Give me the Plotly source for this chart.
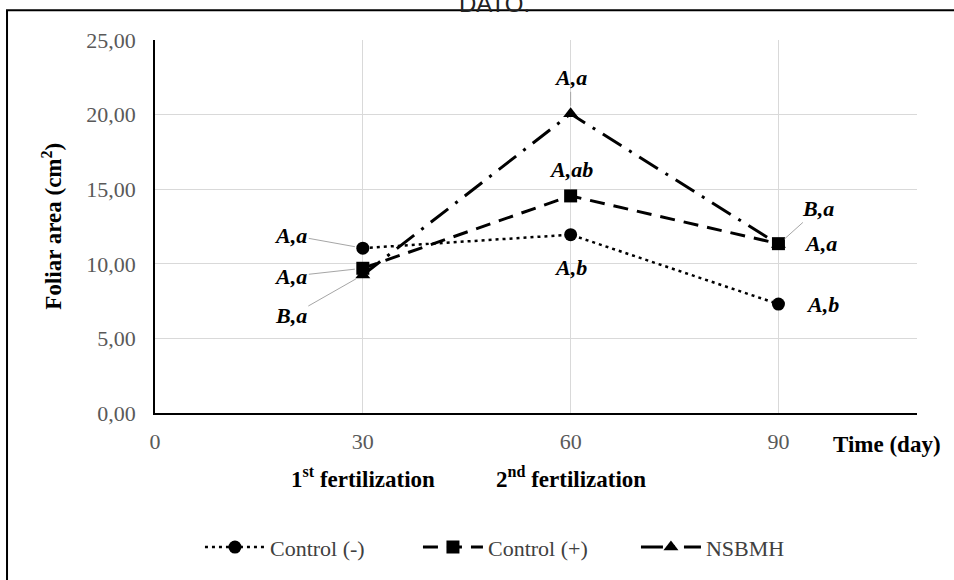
import plotly.graph_objects as go

# ---- data ----
days = [30, 60, 90]
control_neg = [11.05, 11.95, 7.30]
control_pos = [9.70, 14.55, 11.35]
nsbmh = [9.25, 20.05, 11.30]

labels_neg = ["A,a", "A,b", "A,b"]
labels_pos = ["A,a", "A,ab", "A,a"]
labels_nsb = ["B,a", "A,a", "B,a"]

series_names = ["Control (-)", "Control (+)", "NSBMH"]

y_ticks = [0, 5, 10, 15, 20, 25]
x_ticks = [0, 30, 60, 90]

SERIF = "Liberation Serif, Times New Roman, serif"

def serif_name(s):
    return "<span style='font-family:Liberation Serif, serif'>%s</span>" % s

fig = go.Figure()
fig.add_trace(go.Scatter(
    x=days, y=control_neg, name=serif_name(series_names[0]), mode="lines+markers",
    line=dict(color="black", width=2.5, dash="3px,4px"),
    marker=dict(symbol="circle", size=13, color="black"),
))
fig.add_trace(go.Scatter(
    x=days, y=control_pos, name=serif_name(series_names[1]), mode="lines+markers",
    line=dict(color="black", width=3, dash="15px,9px"),
    marker=dict(symbol="square", size=13, color="black"),
))
fig.add_trace(go.Scatter(
    x=days, y=nsbmh, name=serif_name(series_names[2]), mode="lines+markers",
    line=dict(color="black", width=3, dash="22px,9px,3px,9px"),
    marker=dict(symbol="triangle-up", size=13, color="black"),
))

lab_font = dict(family=SERIF, size=22, color="black")
lead = dict(showarrow=True, arrowhead=0, arrowwidth=1, arrowcolor="#a6a6a6", standoff=8)

def lab(x, y, text, **kw):
    t = "<b><i>%s</i></b>" % text
    fig.add_annotation(x=x, y=y, xref="x", yref="y", text=t, font=lab_font,
                       xanchor="center", yanchor="middle", **kw)

# Control (-)
lab(days[0], control_neg[0], labels_neg[0], ax=-72, ay=-13, **lead)
lab(days[1], control_neg[1], labels_neg[1], showarrow=False, yshift=-33)
lab(days[2], control_neg[2], labels_neg[2], showarrow=False, xshift=44)
# Control (+)
lab(days[0], control_pos[0], labels_pos[0], ax=-72, ay=8, **lead)
lab(days[1], control_pos[1], labels_pos[1], showarrow=False, yshift=26)
lab(days[2], control_pos[2], labels_pos[2], showarrow=False, xshift=42)
# NSBMH
lab(days[0], nsbmh[0], labels_nsb[0], ax=-72, ay=41, **lead)
lab(days[1], nsbmh[1], labels_nsb[1], ax=0, ay=-36, **lead)
lab(days[2], nsbmh[2], labels_nsb[2], ax=40, ay=-36, **lead)

title_font = dict(family=SERIF, size=23, color="black")
fig.add_annotation(x=-0.135, y=0.5, xref="paper", yref="paper", showarrow=False,
                   xanchor="center", yanchor="middle",
                   text="<b>Foliar area (cm<sup>2</sup>)</b>", textangle=-90, font=title_font)
fig.add_annotation(x=0.961, y=-0.085, xref="paper", yref="paper", showarrow=False,
                   xanchor="center", yanchor="middle",
                   text="<b>Time (day)</b>", font=title_font)
fig.add_annotation(x=30, y=-0.173, xref="x", yref="paper", showarrow=False,
                   xanchor="center", yanchor="middle",
                   text="<b>1<sup>st</sup> fertilization</b>", font=title_font)
fig.add_annotation(x=60, y=-0.173, xref="x", yref="paper", showarrow=False,
                   xanchor="center", yanchor="middle",
                   text="<b>2<sup>nd</sup> fertilization</b>", font=title_font)
fig.add_annotation(x=0.446, y=1.099, xref="paper", yref="paper", showarrow=False,
                   xanchor="center", yanchor="middle",
                   text="DATO.", font=dict(family="Liberation Sans, Arial, sans-serif", size=24, color="#222"))

# outer border
fig.add_shape(type="rect", xref="paper", yref="paper",
              x0=-0.1942, x1=1.1, y0=-0.5, y1=1.08,
              line=dict(color="black", width=2), fillcolor="rgba(0,0,0,0)")

fig.update_layout(
    template="none",
    width=954, height=580,
    margin=dict(l=155, r=37, t=40, b=165),
    plot_bgcolor="white", paper_bgcolor="white",
    separators=",.",
    showlegend=True,
    legend=dict(orientation="h", x=0.059, xanchor="left", y=-0.36, yanchor="middle",
                font=dict(family=SERIF, size=22, color="#404040"),
                bgcolor="rgba(0,0,0,0)", borderwidth=0,
                itemwidth=60, entrywidth=143, entrywidthmode="pixels"),
    font=dict(family=SERIF, color="#404040"),
)
fig.update_xaxes(range=[0, 110], tickvals=x_ticks, showgrid=True, gridcolor="#d9d9d9",
                 gridwidth=1, showline=True, linecolor="black", linewidth=1.5,
                 zeroline=False, ticks="", ticklabelstandoff=8, automargin=False,
                 tickfont=dict(family=SERIF, size=22, color="#595959"))
fig.update_yaxes(range=[0, 25], tickvals=y_ticks, tickformat=".2f", showgrid=True,
                 gridcolor="#d9d9d9", gridwidth=1, showline=True, linecolor="black",
                 linewidth=1.5, zeroline=False, ticks="", ticklabelstandoff=13, automargin=False,
                 tickfont=dict(family=SERIF, size=22, color="#595959"))

fig.write_html("out.html", config={"displayModeBar": False},
               post_script="document.body.style.margin='0px';")
